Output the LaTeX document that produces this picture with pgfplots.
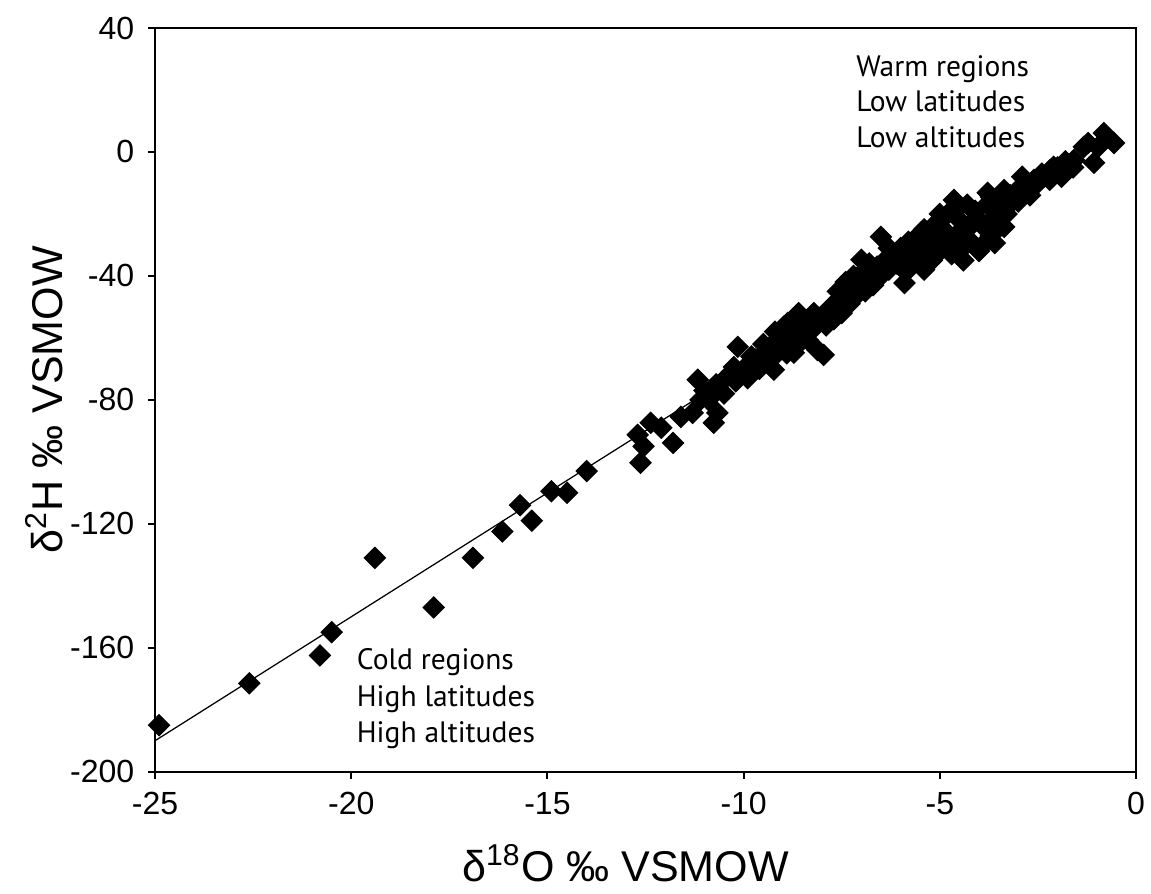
\documentclass[border=0pt]{standalone}
\usepackage{fontspec}
\setmainfont{Liberation Sans}
\newfontfamily\annfont{PT Sans}
\usepackage{pgfplots}
\usepackage{pgfplotstable}
\pgfplotsset{compat=1.18}

% d18O vs d2H samples
\pgfplotstableread{
x y
-24.9 -185
-22.6 -171.5
-20.8 -162.5
-20.5 -155
-19.4 -131
-17.9 -147
-16.9 -131
-16.15 -122.5
-15.7 -114
-15.4 -119
-14.9 -109.5
-14.5 -110
-14.0 -103
-12.63 -100.3
-12.55 -95
-12.7 -91.3
-12.37 -87.4
-12.1 -89
-11.8 -93.9
-11.6 -85.5
-11.3 -84.2
-11.1 -80
-11.17 -73.5
-10.76 -87.4
-10.67 -84.2
-10.84 -76.8
-10.5 -73.5
-10.15 -62.9
-10.25 -69.4
-9.8 -71.3
-9.57 -67
-9.23 -70.3
-9.23 -61.6
-8.98 -56.4
-8.72 -64.8
-8.37 -60.6
-8.21 -52
-8.12 -63.9
-7.96 -65.5
-8.88 -55.2
-7.78 -50
-7.35 -45.5
-7.0 -34.8
-6.5 -27.4
-6.68 -41.3
-6.25 -35.8
-5.9 -42.3
-5.66 -31.6
-5.48 -26.1
-5.15 -33.9
-4.8 -28.4
-4.64 -15.5
-4.38 -30.6
-4.13 -22
-3.78 -13.2
-3.78 -28.4
-4.97 -22
-5.4 -38
-4.2 -23
-3.6 -29.4
-3.7 -14.5
-3.36 -12.3
-3.36 -24.2
-2.75 -12.3
-2.5 -10
-2.1 -4.8
-1.9 -8
-1.58 -2.6
-1.33 1.6
-1.07 -3.5
-1.22 2.9
-0.82 6.1
-0.56 2.9
-0.97 1.6
-2.35 -8
-3.1 -15.5
-11.0 -77
-10.9 -80
-10.7 -75
-10.5 -78
-10.3 -71
-10.2 -74
-10.0 -70
-9.9 -73
-9.7 -67
-9.6 -70
-9.4 -64
-9.3 -67
-9.1 -63
-9.0 -61
-8.9 -65
-8.7 -59
-8.6 -62
-8.5 -57
-8.4 -55
-8.3 -58
-8.0 -53
-7.9 -56
-7.8 -51
-7.7 -54
-7.6 -48
-7.5 -52
-7.4 -47
-7.3 -49
-7.2 -44
-7.1 -46
-7.0 -42
-6.9 -45
-6.8 -39
-6.7 -43
-6.6 -37
-6.5 -40
-6.4 -35
-6.3 -38
-6.2 -33
-6.1 -36
-6.0 -31
-5.9 -34
-5.8 -29
-5.7 -35
-5.6 -28
-5.5 -33
-5.4 -25
-5.3 -30
-5.2 -27
-5.1 -23
-5.0 -31
-4.9 -25
-4.8 -20
-4.7 -33
-4.6 -27
-4.5 -22
-4.4 -35
-4.3 -25
-4.2 -29
-4.1 -19
-4.0 -32
-3.9 -24
-3.8 -17
-3.7 -27
-3.6 -21
-3.5 -18
-3.4 -15
-3.2 -14
-3.0 -12
-2.8 -10
-2.6 -9
-2.4 -7
-2.2 -6
-2.0 -5
-1.8 -3
-9.8 -66
-9.5 -62
-8.8 -58
-8.2 -56
-7.6 -45
-7.2 -40
-6.8 -36
-6.3 -31
-6.0 -37
-5.8 -38
-5.5 -30
-5.2 -35
-5.0 -20
-4.9 -30
-4.6 -19
-4.5 -30
-4.3 -17
-4.0 -22
-3.9 -30
-3.6 -16
-3.3 -20
-3.0 -16
-2.7 -14
-2.9 -8
-2.2 -9
-1.6 -5
-6.9 -38
-7.4 -42
-8.6 -52
-9.2 -58
}\samples

\begin{document}
\begin{tikzpicture}
\begin{axis}[
    scale only axis,
    width=392pt, height=297.2pt,
    xmin=-25, xmax=0, ymin=-200, ymax=40,
    xtick={-25,-20,...,0}, ytick={-200,-160,...,40},
    tick align=outside, tick pos=left,
    major tick length=2.8pt,
    axis line style={line width=0.8pt},
    tick style={line width=0.8pt, black},
    /pgf/number format/assume math mode=true,
    ticklabel style={font=\fontsize{12.8}{14}\selectfont},
    xticklabel style={yshift=-2pt},
    yticklabel style={xshift=-2pt},
    xlabel={δ\textsuperscript{18}O ‰ VSMOW},
    ylabel={δ\textsuperscript{2}H ‰ VSMOW},
    label style={font=\fontsize{17.2}{19}\selectfont},
    xlabel style={yshift=-5pt, xshift=-8pt},
    ylabel style={yshift=-4pt},
    clip=false,
  ]
  \coordinate (sw) at (rel axis cs:0,0);
  \coordinate (ne) at (rel axis cs:1,1);
  \addplot[black, line width=0.5pt] coordinates {(-25,-190) (-1,2)};
  \addplot[only marks, mark=square*, mark size=3.0pt,
    mark options={rotate=45, fill=black, draw=black}] table[x=x, y=y] {\samples};
  \begin{scope}[every node/.style={anchor=base west, inner sep=0pt, font=\annfont\fontsize{11.8}{13}\selectfont}]
  \node at (axis cs:-7.14,24.5) {Warm regions};
  \node at (axis cs:-7.14,12.9) {Low latitudes};
  \node at (axis cs:-7.14,1.3) {Low altitudes};
  \node at (axis cs:-19.87,-167.1) {Cold regions};
  \node at (axis cs:-19.87,-179) {High latitudes};
  \node at (axis cs:-19.87,-190.6) {High altitudes};
  \end{scope}
\end{axis}
\pgfresetboundingbox
\path ([xshift=-62pt,yshift=-48.8pt]sw) rectangle ([xshift=6pt,yshift=11.2pt]ne);
\end{tikzpicture}
\end{document}
